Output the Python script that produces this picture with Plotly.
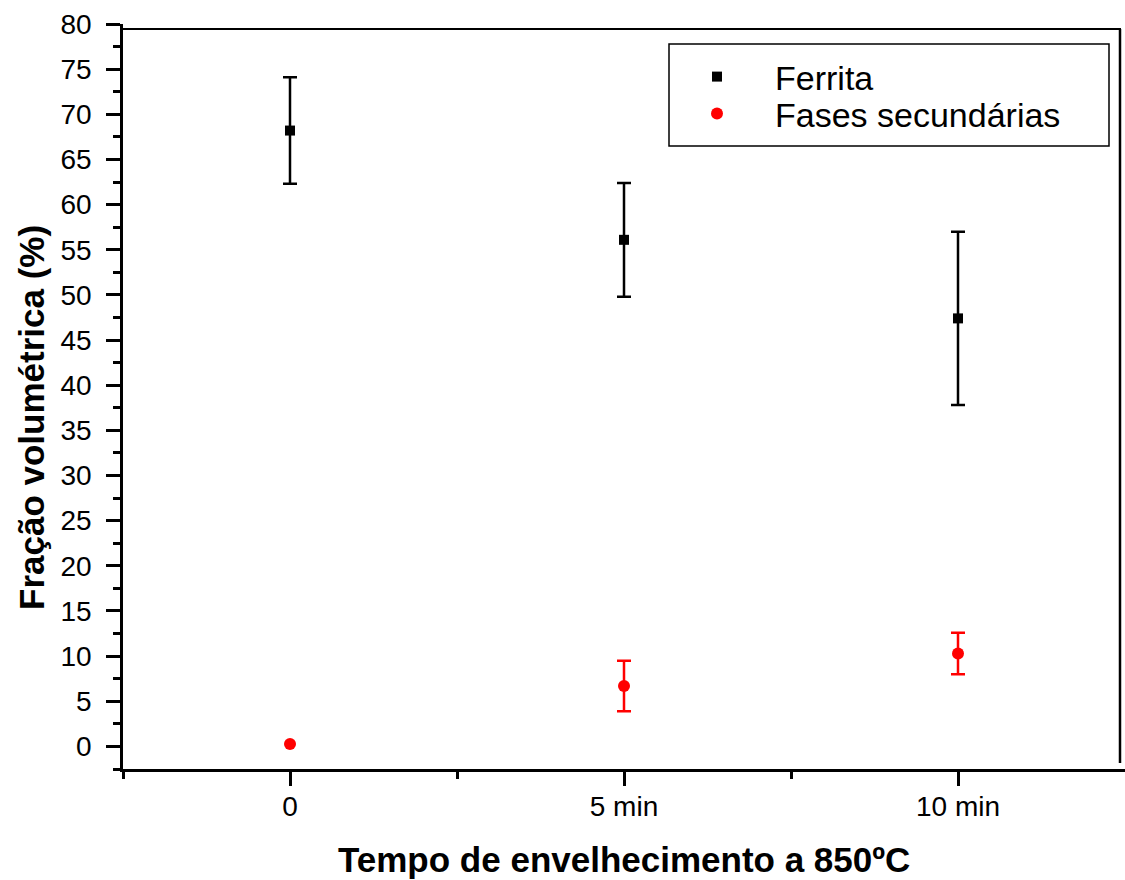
import numpy as np
import plotly.graph_objects as go

# Aging time categories (positions 0, 1, 2 on the x axis)
categorias = ["0", "5 min", "10 min"]
posicoes = [0, 1, 2]

# Volume fraction (%) and standard deviation (NaN = no error bar)
ferrita = [68.2, 56.1, 47.4]
ferrita_erro = [5.9, 6.3, 9.6]
fases_sec = [0.27, 6.7, 10.3]
fases_sec_erro = [np.nan, 2.8, 2.3]

W, H = 1125, 880
ML, MR, MT, MB = 123, 0, 24, 111
PW, PH = W - ML - MR, H - MT - MB


def px_x(p):
    return (p - ML) / PW


def px_y(p):
    return (H - MB - p) / PH


FONT = "Arial, Liberation Sans, sans-serif"

fig = go.Figure()

fig.add_trace(go.Scatter(
    x=posicoes, y=ferrita, mode="markers", name="Ferrita",
    marker=dict(symbol="square", size=10, color="black"),
    error_y=dict(type="data", array=np.array(ferrita_erro), visible=True,
                 color="black", thickness=2.5, width=7),
    legend="legend",
))
fig.add_trace(go.Scatter(
    x=posicoes, y=fases_sec, mode="markers", name="Fases secundárias",
    marker=dict(symbol="circle", size=12, color="#ff0000"),
    error_y=dict(type="data", array=np.array(fases_sec_erro), visible=True,
                 color="#ff0000", thickness=2.5, width=7),
    legend="legend2",
))

axis_common = dict(
    showline=True, linecolor="black", linewidth=2.5,
    ticks="outside", tickcolor="black", tickwidth=2.5, ticklen=14,
    showgrid=False, zeroline=False,
    tickfont=dict(family=FONT, size=28, color="black"),
)

fig.update_xaxes(
    range=[-0.5, 2.5], tickvals=posicoes, ticktext=categorias,
    minor=dict(tickvals=[-0.5, 0.5, 1.5], ticks="outside", ticklen=7,
               tickcolor="black", tickwidth=2.5),
    ticklabelstandoff=-3,
    **axis_common,
)
fig.update_yaxes(
    range=[-2.5, 80], tickvals=list(range(0, 81, 5)),
    minor=dict(tick0=-2.5, dtick=2.5, ticks="outside", ticklen=7,
               tickcolor="black", tickwidth=2.5),
    ticklabelstandoff=9,
    **axis_common,
)

# Top and right frame lines
fig.add_shape(type="line", xref="paper", yref="paper",
              x0=px_x(ML), x1=px_x(1121), y0=px_y(29), y1=px_y(29),
              line=dict(color="black", width=2))
fig.add_shape(type="line", xref="paper", yref="paper",
              x0=px_x(1120), x1=px_x(1120), y0=px_y(29), y1=px_y(763),
              line=dict(color="black", width=2.5))

# Legend frame
fig.add_shape(type="rect", xref="paper", yref="paper",
              x0=px_x(669), x1=px_x(1109), y0=px_y(44), y1=px_y(146),
              line=dict(color="black", width=1.5), fillcolor="rgba(0,0,0,0)")

legend_common = dict(
    xanchor="left", yanchor="middle", bgcolor="rgba(0,0,0,0)",
    borderwidth=0, itemwidth=106,
    font=dict(family=FONT, size=34, color="black"),
)
fig.update_layout(
    legend=dict(x=px_x(659), y=px_y(77), **legend_common),
    legend2=dict(x=px_x(659), y=px_y(114), **legend_common),
)

# Axis titles
fig.add_annotation(
    text="<b>Tempo de envelhecimento a 850ºC</b>", xref="paper", yref="paper",
    x=0.5, y=px_y(859), xanchor="center", yanchor="middle", showarrow=False,
    font=dict(family=FONT, size=35, color="black"),
)
fig.add_annotation(
    text="<b>Fração volumétrica (%)</b>", xref="paper", yref="paper",
    x=px_x(31), y=px_y(418), xanchor="center", yanchor="middle",
    textangle=-90, showarrow=False,
    font=dict(family=FONT, size=35, color="black"),
)

fig.update_layout(
    width=W, height=H,
    margin=dict(l=ML, r=MR, t=MT, b=MB, pad=0),
    paper_bgcolor="white", plot_bgcolor="white",
    showlegend=True,
)

fig.write_html("out.html")
